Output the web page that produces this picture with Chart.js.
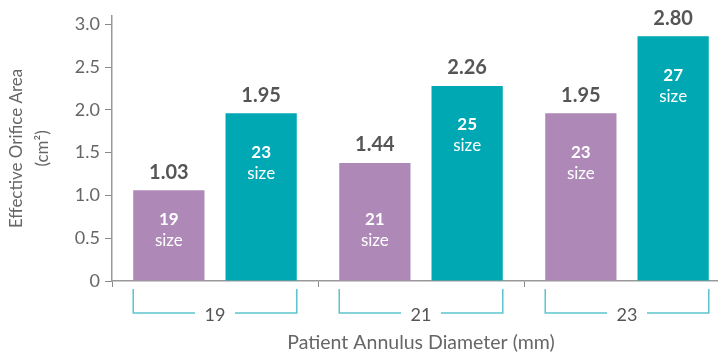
<!DOCTYPE html>
<html>
<head>
<meta charset="utf-8">
<script src="https://cdn.jsdelivr.net/npm/chart.js@4/dist/chart.umd.min.js"></script>
<style>
  html, body { margin: 0; padding: 0; background: #fff; overflow: hidden; }
  #wrap { width: 730px; height: 355px; position: relative; }
</style>
</head>
<body>
<div id="wrap"><canvas id="eoaChart"></canvas></div>
<script>
const annulusLabels = ["19", "21", "23"];
const smallValues = [1.06, 1.38, 1.96];
const largeValues = [1.96, 2.28, 2.86];
const smallValueLabels = ["1.03", "1.44", "1.95"];
const largeValueLabels = ["1.95", "2.26", "2.80"];
const smallSizes = ["19", "21", "23"];
const largeSizes = ["23", "25", "27"];
const yTicks = [0, 0.5, 1.0, 1.5, 2.0, 2.5, 3.0];

const FONT = "Lato, 'Open Sans', sans-serif";

// value above the bar, size inside it, brackets under each group
const barText = {
  id: "barText",
  afterDatasetsDraw(chart) {
    const ctx = chart.ctx;
    chart.data.datasets.forEach((ds, d) => {
      chart.getDatasetMeta(d).data.forEach((bar, i) => {
        const top = bar.y, bottom = bar.base;
        ctx.save();
        ctx.textAlign = "center";
        ctx.textBaseline = "middle";
        ctx.fillStyle = "#555";
        ctx.font = "bold 20px " + FONT;
        ctx.fillText(ds.valueLabels[i], bar.x, top - 18);
        const y1 = bottom - top > 140 ? top + 39 : bottom - 61;
        ctx.fillStyle = "#fff";
        ctx.font = "bold 17px " + FONT;
        ctx.fillText(ds.sizes[i], bar.x, y1);
        ctx.font = "17px " + FONT;
        ctx.fillText("size", bar.x, y1 + 21);
        ctx.restore();
      });
    });

    const m0 = chart.getDatasetMeta(0), m1 = chart.getDatasetMeta(1);
    const yb = chart.chartArea.bottom;
    ctx.save();
    ctx.strokeStyle = "#5ec4cb";
    ctx.lineWidth = 1.5;
    m0.data.forEach((b, i) => {
      const b2 = m1.data[i];
      const l = b.x - b.width / 2, r = b2.x + b2.width / 2;
      const c = (l + r) / 2;
      ctx.beginPath();
      ctx.moveTo(l, yb + 8);
      ctx.lineTo(l, yb + 32);
      ctx.lineTo(c - 20, yb + 32);
      ctx.moveTo(c + 20, yb + 32);
      ctx.lineTo(r, yb + 32);
      ctx.lineTo(r, yb + 8);
      ctx.stroke();
    });
    ctx.restore();
  }
};

new Chart("eoaChart", {
  type: "bar",
  data: {
    labels: annulusLabels,
    datasets: [{
      data: smallValues,
      backgroundColor: "#ae89b7",
      valueLabels: smallValueLabels,
      sizes: smallSizes
    }, {
      data: largeValues,
      backgroundColor: "#00a8b4",
      valueLabels: largeValueLabels,
      sizes: largeSizes
    }]
  },
  options: {
    responsive: true,
    maintainAspectRatio: false,
    animation: false,
    categoryPercentage: 0.896,
    barPercentage: 0.772,
    layout: { padding: { top: 14, right: 0, bottom: 0, left: 0 } },
    plugins: {
      legend: { display: false },
      tooltip: { enabled: false }
    },
    scales: {
      x: {
        grid: { display: true, drawOnChartArea: false, tickLength: 6, color: "#888", offset: true },
        border: { color: "#999", width: 1.5 },
        ticks: { color: "#555", font: { family: FONT, size: 18 }, padding: 17 },
        title: {
          display: true,
          text: "Patient Annulus Diameter (mm)",
          color: "#666",
          font: { family: FONT, size: 19.5, lineHeight: 1.3 },
          padding: { top: 0, bottom: 0 }
        },
        afterFit(s) { s.height = 74; }
      },
      y: {
        min: 0,
        max: 3.1,
        afterBuildTicks(s) { s.ticks = yTicks.map(v => ({ value: v })); },
        grid: { display: true, drawOnChartArea: false, tickLength: 7, color: "#888" },
        border: { color: "#999", width: 1.5 },
        ticks: {
          color: "#666",
          font: { family: FONT, size: 18 },
          padding: 5,
          callback: v => v === 0 ? "0" : v.toFixed(1)
        },
        title: {
          display: true,
          text: ["Effective Orifice Area", "(cm²)"],
          color: "#666",
          font: { family: FONT, size: 17, lineHeight: 1.53 },
          padding: { top: 4, bottom: 0 }
        },
        afterFit(s) { s.width = 112; }
      }
    }
  },
  plugins: [barText]
});
</script>
</body>
</html>
